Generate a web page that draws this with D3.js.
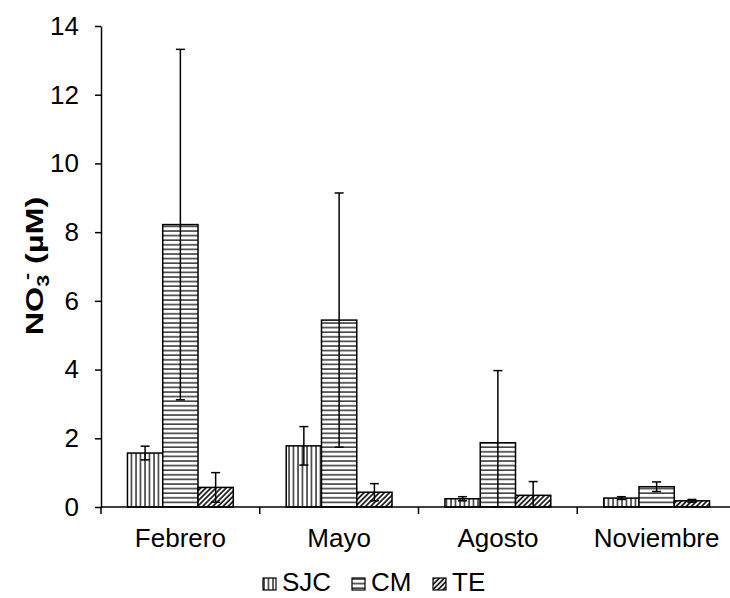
<!DOCTYPE html>
<html>
<head>
<meta charset="utf-8">
<script src="https://cdn.jsdelivr.net/npm/d3@7"></script>
<style>
  html, body { margin: 0; padding: 0; background: #fff; }
  svg { display: block; font-family: "Liberation Sans", Arial, sans-serif; }
</style>
</head>
<body>
<svg id="chart" width="730" height="598"></svg>
<script>
// Nitrate concentration per sampling month and site
const months = ["Febrero", "Mayo", "Agosto", "Noviembre"];
const seriesNames = ["SJC", "CM", "TE"];
const sjcValues = [1.57, 1.78, 0.24, 0.26];
const sjcErrors = [0.20, 0.56, 0.06, 0.04];
const cmValues = [8.22, 5.44, 1.87, 0.59];
const cmErrors = [5.10, 3.70, 2.10, 0.14];
const teValues = [0.57, 0.43, 0.34, 0.18];
const teErrors = [0.43, 0.25, 0.40, 0.04];
const yTicks = [0, 2, 4, 6, 8, 10, 12, 14];

const series = [
  { name: seriesNames[0], values: sjcValues, errors: sjcErrors, fill: "url(#pat-vert)" },
  { name: seriesNames[1], values: cmValues, errors: cmErrors, fill: "url(#pat-horiz)" },
  { name: seriesNames[2], values: teValues, errors: teErrors, fill: "url(#pat-diag)" }
];

const svg = d3.select("#chart");
const plotLeft = 101, plotRight = 736, plotTop = 26, plotBottom = 507;
const fontSize = 26;

const y = d3.scaleLinear().domain([0, 14]).range([plotBottom, plotTop]);
const x = d3.scaleBand().domain(months).range([plotLeft, plotRight]).padding(0);
// three bars per category with a gap of 1.5 bar widths
const barW = x.bandwidth() / 4.5;
const inner = d3.scaleBand().domain(seriesNames)
  .range([0.75 * barW, 0.75 * barW + 3 * barW]).padding(0);

// Fill patterns
const defs = svg.append("defs");
const pv = defs.append("pattern").attr("id", "pat-vert").attr("patternUnits", "userSpaceOnUse")
  .attr("width", 4.5).attr("height", 4);
pv.append("rect").attr("width", 4.5).attr("height", 4).attr("fill", "#fff");
pv.append("line").attr("x1", 1).attr("x2", 1).attr("y1", 0).attr("y2", 4)
  .attr("stroke", "#111").attr("stroke-width", 1.3);

const ph = defs.append("pattern").attr("id", "pat-horiz").attr("patternUnits", "userSpaceOnUse")
  .attr("width", 4).attr("height", 4.6);
ph.append("rect").attr("width", 4).attr("height", 4.6).attr("fill", "#fff");
ph.append("line").attr("x1", 0).attr("x2", 4).attr("y1", 1).attr("y2", 1)
  .attr("stroke", "#111").attr("stroke-width", 1.3);

const pd = defs.append("pattern").attr("id", "pat-diag").attr("patternUnits", "userSpaceOnUse")
  .attr("width", 3.6).attr("height", 4).attr("patternTransform", "rotate(45)");
pd.append("rect").attr("width", 3.6).attr("height", 4).attr("fill", "#fff");
pd.append("line").attr("x1", 1).attr("x2", 1).attr("y1", 0).attr("y2", 4)
  .attr("stroke", "#111").attr("stroke-width", 1.7);

// Bars
const groups = svg.append("g").selectAll("g").data(series).join("g");
groups.selectAll("rect").data(s => s.values.map((v, i) => ({ s, v, m: months[i], e: s.errors[i] })))
  .join("rect")
  .attr("x", d => x(d.m) + inner(d.s.name))
  .attr("y", d => y(d.v))
  .attr("width", barW)
  .attr("height", d => y(0) - y(d.v))
  .attr("fill", d => d.s.fill)
  .attr("stroke", "#000")
  .attr("stroke-width", 1.5);

// Error bars
const errG = svg.append("g").attr("stroke", "#000").attr("stroke-width", 1.5);
series.forEach(s => {
  s.values.forEach((v, i) => {
    const cx = x(months[i]) + inner(s.name) + barW / 2;
    const lo = Math.max(0, v - s.errors[i]), hi = v + s.errors[i];
    errG.append("line").attr("x1", cx).attr("x2", cx).attr("y1", y(lo)).attr("y2", y(hi));
    errG.append("line").attr("x1", cx - 4.5).attr("x2", cx + 4.5).attr("y1", y(hi)).attr("y2", y(hi));
    errG.append("line").attr("x1", cx - 4.5).attr("x2", cx + 4.5).attr("y1", y(lo)).attr("y2", y(lo));
  });
});

// Y axis
const yAxis = svg.append("g").attr("transform", `translate(${plotLeft},0)`)
  .call(d3.axisLeft(y).tickValues(yTicks).tickSize(6).tickSizeOuter(0).tickPadding(16));
yAxis.selectAll("path, line").attr("stroke", "#000").attr("stroke-width", 1.5);
yAxis.selectAll("text").attr("font-size", fontSize).attr("fill", "#000")
  .style("font-family", "'Liberation Sans', Arial, sans-serif");

// X axis line, category boundary ticks and labels
svg.append("line").attr("x1", plotLeft).attr("x2", plotRight).attr("y1", plotBottom).attr("y2", plotBottom)
  .attr("stroke", "#000").attr("stroke-width", 1.5);
const bounds = months.map(m => x(m)).concat([x.range()[1]]);
svg.append("g").selectAll("line").data(bounds).join("line")
  .attr("x1", d => d).attr("x2", d => d).attr("y1", plotBottom).attr("y2", plotBottom + 7)
  .attr("stroke", "#000").attr("stroke-width", 1.5);
const xAxis = svg.append("g").attr("transform", `translate(0,${plotBottom})`)
  .call(d3.axisBottom(x).tickSize(0).tickPadding(22));
xAxis.select(".domain").remove();
xAxis.selectAll("text").attr("font-size", fontSize).attr("fill", "#000")
  .style("font-family", "'Liberation Sans', Arial, sans-serif");

// Y axis title (widened along its reading direction)
const title = svg.append("text")
  .attr("transform", "translate(43,266) rotate(-90) scale(1.35,1)")
  .attr("text-anchor", "middle")
  .attr("font-size", 24).attr("font-weight", "bold").attr("fill", "#000");
title.append("tspan").text("NO");
title.append("tspan").text("3").attr("font-size", 16).attr("dy", 6);
title.append("tspan").text("-").attr("font-size", 16).attr("dy", -17).attr("dx", -4);
title.append("tspan").text(" (µM)").attr("dy", 11);

// Legend
const legendItems = [
  { name: "SJC", fill: "url(#pat-vert)", x: 263 },
  { name: "CM", fill: "url(#pat-horiz)", x: 352 },
  { name: "TE", fill: "url(#pat-diag)", x: 433 }
];
const lg = svg.append("g").selectAll("g").data(legendItems).join("g")
  .attr("transform", d => `translate(${d.x},578)`);
lg.append("rect").attr("width", 13).attr("height", 12)
  .attr("fill", d => d.fill).attr("stroke", "#000").attr("stroke-width", 1.2);
lg.append("text").attr("x", 19).attr("y", 13).attr("font-size", fontSize).attr("fill", "#000")
  .text(d => d.name);
</script>
</body>
</html>
